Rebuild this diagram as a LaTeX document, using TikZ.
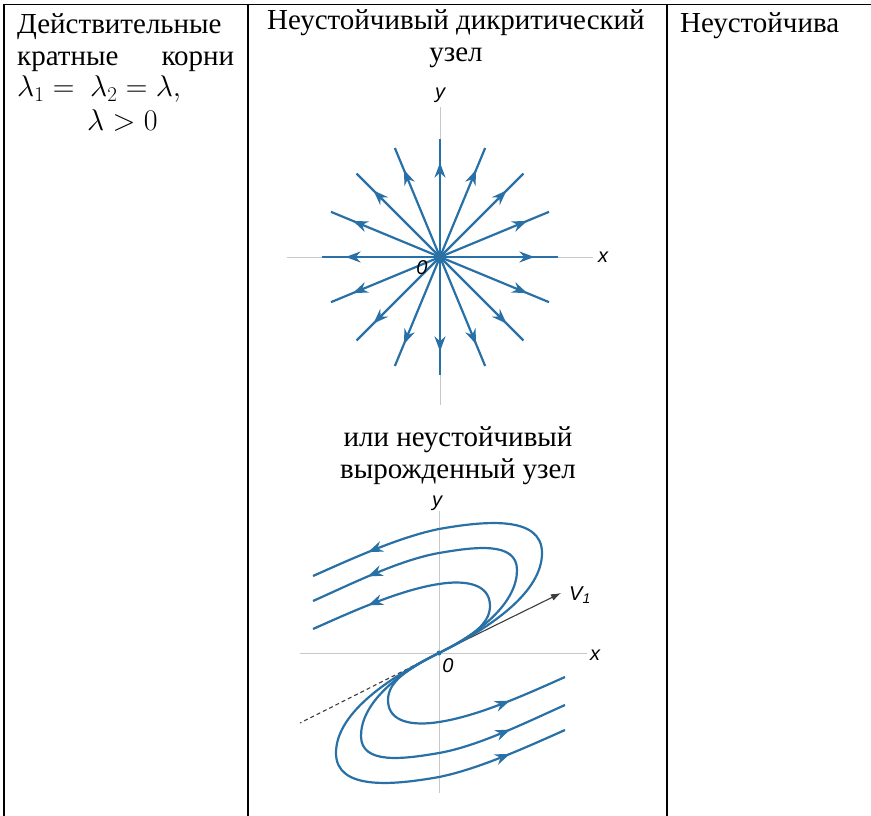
\RequirePackage{fix-cm}
\documentclass[tikz,border=0pt]{standalone}
\usepackage{fontspec}
\setmainfont{Liberation Serif}
\newfontfamily\axisfont{Liberation Sans}
\usetikzlibrary{arrows.meta,positioning,decorations.markings}
\definecolor{flowblue}{RGB}{40,112,165}
\definecolor{axisgray}{RGB}{200,200,200}
\definecolor{vecgray}{RGB}{60,60,60}
\newcommand\bigmath[1]{{\fontsize{30}{32}\selectfont$#1$}}

\begin{document}
\begin{tikzpicture}[x=1pt,y=-1pt,
  cell/.style={inner sep=0pt,font=\fontsize{29}{32}\selectfont},
  rule/.style={line width=1.9pt},
  axis/.style={axisgray,line width=1pt},
  albl/.style={inner sep=0pt,font=\axisfont\itshape\fontsize{20}{24}\selectfont},
  ray/.style={flowblue,line width=2.2pt,postaction={decorate},
    decoration={markings,mark=at position 0.8 with {\arrow{Stealth[length=15pt,width=11pt]}}}},
  orbit/.style={flowblue,line width=2.2pt,postaction={decorate},
    decoration={markings,mark=at position -60pt with {\arrow{Stealth[length=15pt,width=11pt]}}}},
  guide/.style={vecgray,line width=1.1pt,dash pattern=on 4pt off 3pt},
  vec/.style={vecgray,line width=1.1pt,-{Latex[length=10pt,width=7pt]}}
]
\useasboundingbox (0,0) rectangle (871,816);
% table rules
\draw[rule] (3,4.5) -- (871,4.5);
\draw[rule] (4,4) -- (4,816);
\draw[rule] (248,4) -- (248,816);
\draw[rule] (667,4) -- (667,816);

% cell texts
\node[cell,anchor=base west,align=left] (roots) at (17,130)
  {Действительные\\\makebox[217pt][s]{кратные корни}\\\bigmath{\lambda_1 =\ \lambda_2 = \lambda,}\\[1pt]\hspace*{70pt}\bigmath{\lambda > 0}};
\node[cell,anchor=base,align=center] (dicrit) at (456,62) {Неустойчивый дикритический\\узел};
\node[cell,anchor=base,align=center] (degen) at (458,478) {или неустойчивый\\вырожденный узел};
\node[cell,anchor=base west] (verdict) at (680,33) {Неустойчива};

% dicritical node
\begin{scope}[shift={(440,257)}]
\coordinate (o1) at (0,0);
\draw[axis] (-153,0) -- (153,0);
\draw[axis] (0,-150) -- (0,148);
\foreach \a in {0,22.5,...,337.5}
  \draw[ray] (o1) -- ++(\a:118);
\fill[flowblue] (o1) circle (3.5);
\node[albl] (x1) at (163,0) {x};
\node[albl] (y1) at (0,-162) {y};
\node[albl] (zero1) at (-18,11) {0};
\end{scope}

% degenerate node
\begin{scope}[shift={(439,653)},yscale=-1]
\coordinate (o2) at (0,0);
\draw[axis] (-139,0) -- (148,0);
\draw[axis] (0,-140) -- (0,142);
\draw[guide] (o2) -- (-139,-70);
\draw[vec] (o2) -- (122,60) coordinate (v1);
\foreach \r in {0,180}{
  \begin{scope}[rotate=\r]
  \draw[orbit] (o2) .. controls (55,27) and (103,62) .. (103,100)
    .. controls (103,138) and (45,132) .. (0,124)
    .. controls (-40,116) and (-90,93) .. (-126,77);
  \draw[orbit] (o2) .. controls (45,22) and (78,52) .. (78,83)
    .. controls (78,112) and (35,106) .. (0,100)
    .. controls (-40,93) and (-90,68) .. (-126,52);
  \draw[orbit] (o2) .. controls (30,15) and (51,28) .. (51,47)
    .. controls (51,70) and (25,73) .. (0,69)
    .. controls (-40,63) and (-90,40) .. (-126,24);
  \end{scope}
}
\fill[flowblue] (o2) circle (2.5);
\node[albl] (x2) at (156,-2) {x};
\node[albl] (y2) at (-2,150) {y};
\node[albl] (zero2) at (9,-13) {0};
\node[albl] (v1lbl) at (141,58) {V\textsubscript{1}};
\end{scope}
\end{tikzpicture}
\end{document}
